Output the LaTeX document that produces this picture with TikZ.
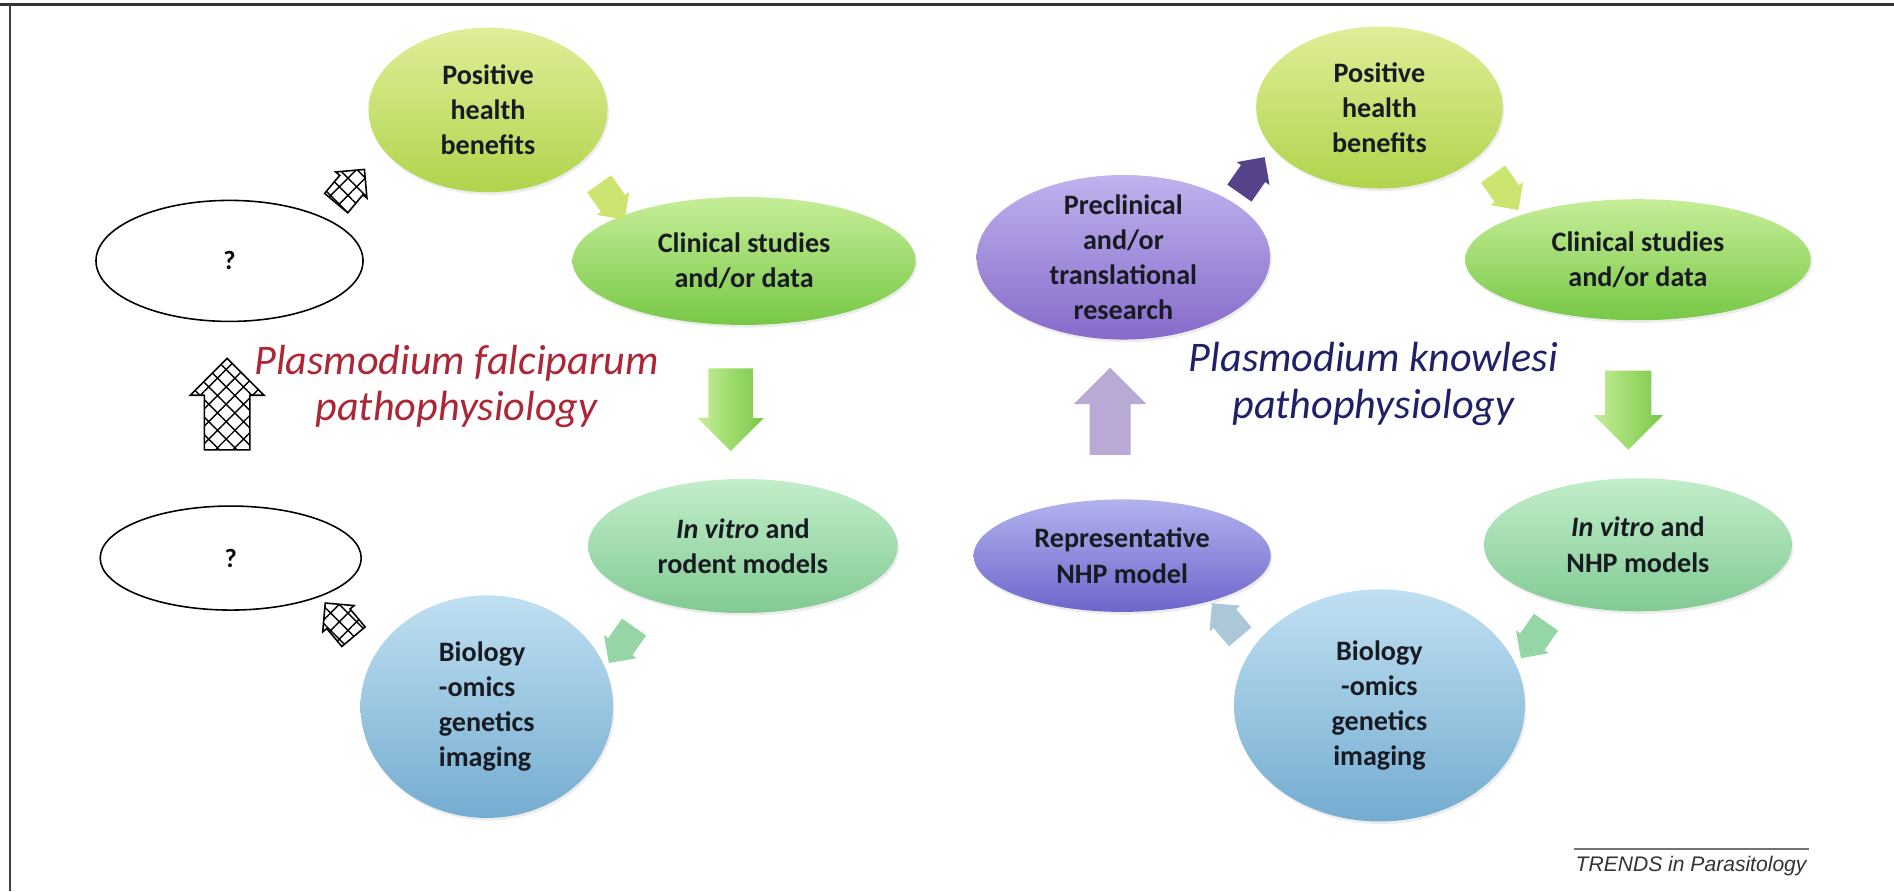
\documentclass[tikz,border=0pt]{standalone}
\usepackage{fontspec}
\setmainfont{Carlito}
\newfontfamily\trendsfont{Liberation Sans}
\usepackage{tikz}
\usetikzlibrary{shapes.geometric, shapes.arrows, patterns.meta, shadows}
\definecolor{TxtDark}{RGB}{24,28,34}
\definecolor{PosTop}{RGB}{224,238,152}
\definecolor{PosBot}{RGB}{176,212,76}
\definecolor{ClinTop}{RGB}{198,238,152}
\definecolor{ClinBot}{RGB}{120,200,70}
\definecolor{VitTop}{RGB}{194,238,202}
\definecolor{VitBot}{RGB}{130,202,148}
\definecolor{BioTop}{RGB}{192,224,242}
\definecolor{BioBot}{RGB}{116,172,208}
\definecolor{PreTop}{RGB}{192,178,238}
\definecolor{PreBot}{RGB}{134,106,202}
\definecolor{RepTop}{RGB}{178,178,238}
\definecolor{RepBot}{RGB}{110,102,204}
\definecolor{FalcRed}{RGB}{172,38,54}
\definecolor{KnowBlue}{RGB}{32,32,104}

\begin{document}
\begin{tikzpicture}[x=0.02416cm, y=-0.02416cm,
            blob/.style={ellipse, inner sep=0pt, align=center, text=TxtDark,
                         font=\bfseries\fontsize{16}{20}\selectfont,
                         drop shadow={opacity=0.15, shadow xshift=0.8pt, shadow yshift=-1.5pt}},
            qbox/.style={ellipse, draw=black, line width=0.9pt, fill=white,
                         minimum width=5.34cm, minimum height=2.42cm,
                         font=\bfseries\fontsize{15}{18}\selectfont},
            turn/.style={single arrow, inner xsep=0pt, inner ysep=8.2pt,
                         minimum height=25pt, single arrow head extend=3pt},
            big/.style={single arrow, inner xsep=0pt},
            hatch/.style={draw=black, line width=0.9pt,
                          pattern={Hatch[angle=45, distance=7pt, line width=0.8pt]}}
          ]
          \useasboundingbox (0,0) rectangle (1568,738);
          \draw[black!80, line width=1.6pt] (0,4) -- (1568,4);
          \draw[black!75, line width=1pt] (8,4) -- (8,738);

          % P. falciparum cycle
          \node[qbox] (q1) at (190,216) {?};
          \node[qbox, minimum width=5.22cm, minimum height=2.08cm] (q2) at (191,462) {?};
          \node[blob, top color=PosTop, bottom color=PosBot, minimum width=4.78cm,
                minimum height=3.29cm] (pos1) at (404,91) {Positive\\health\\benefits};
          \node[blob, top color=ClinTop, bottom color=ClinBot, minimum width=6.86cm,
                minimum height=2.56cm] (clin1) at (616,216) {Clinical studies\\and/or data};
          \node[blob, top color=VitTop, bottom color=VitBot, minimum width=6.19cm,
                minimum height=2.68cm] (vit1) at (615,452) {\textit{In vitro} and\\rodent models};
          \node[blob, top color=BioTop, bottom color=BioBot, minimum width=5.05cm,
                minimum height=4.45cm, align=left] (bio1) at (403,585)
                {Biology\\-omics\\genetics\\imaging};
          \node[turn, hatch, rotate=50] (a1) at (286,159) {};
          \node[turn, fill={rgb,255:red,204;green,228;blue,112}, rotate=-55] (a2) at (503,162) {};
          \node[turn, fill={rgb,255:red,150;green,214;blue,166}, rotate=-125] (a3) at (518,529) {};
          \node[turn, hatch, rotate=130] (a4) at (285,518) {};
          \node[big, hatch, rotate=90, minimum height=52pt, inner ysep=12.5pt,
                single arrow head extend=8pt] (up1) at (188,344) {};
          \node[big, rotate=-90, minimum height=47pt, inner ysep=12.5pt,
                single arrow head extend=6pt, left color=ClinTop, right color=ClinBot]
                (dn1) at (605,330) {};
          \node[font=\itshape\fontsize{24}{26.5}\selectfont, text=FalcRed, align=center]
                (falc) at (378,320) {Plasmodium falciparum\\pathophysiology};

          % P. knowlesi cycle
          \node[blob, top color=PreTop, bottom color=PreBot, minimum width=5.87cm,
                minimum height=3.29cm, inner ysep=-5pt] (pre) at (930,213)
                {Preclinical\\and/or\\translational\\research};
          \node[blob, top color=PosTop, bottom color=PosBot, minimum width=4.93cm,
                minimum height=3.24cm] (pos2) at (1142,89) {Positive\\health\\benefits};
          \node[blob, top color=ClinTop, bottom color=ClinBot, minimum width=6.91cm,
                minimum height=2.42cm] (clin2) at (1356,215) {Clinical studies\\and/or data};
          \node[blob, top color=VitTop, bottom color=VitBot, minimum width=6.16cm,
                minimum height=2.66cm] (vit2) at (1356,451) {\textit{In vitro} and\\NHP models};
          \node[blob, top color=BioTop, bottom color=BioBot, minimum width=5.82cm,
                minimum height=4.64cm] (bio2) at (1142,584)
                {Biology\\-omics\\genetics\\imaging};
          \node[blob, top color=RepTop, bottom color=RepBot, minimum width=5.94cm,
                minimum height=2.25cm] (rep) at (929,460) {Representative\\NHP model};
          \node[turn, fill={rgb,255:red,86;green,66;blue,136}, rotate=55] (b1) at (1033,150) {};
          \node[turn, fill={rgb,255:red,204;green,228;blue,112}, rotate=-55] (b2) at (1243,154) {};
          \node[turn, fill={rgb,255:red,150;green,214;blue,166}, rotate=-125] (b3) at (1273,525) {};
          \node[turn, fill={rgb,255:red,172;green,200;blue,216}, rotate=130] (b4) at (1019,518) {};
          \node[big, rotate=90, minimum height=49.5pt, inner ysep=11.5pt,
                single arrow head extend=9pt,
                fill={rgb,255:red,184;green,170;blue,212}] (up2) at (919,349) {};
          \node[big, rotate=-90, minimum height=45pt, inner ysep=13pt,
                single arrow head extend=6.5pt, left color=ClinTop, right color=ClinBot]
                (dn2) at (1348,330) {};
          \node[font=\itshape\fontsize{24}{26.5}\selectfont, text=KnowBlue, align=center]
                (know) at (1137,318) {Plasmodium knowlesi\\pathophysiology};

          \node[font=\trendsfont\itshape\fontsize{12}{14}\selectfont, text=black!80,
                inner xsep=1pt, inner ysep=4pt] (trends) at (1400,717) {TRENDS in Parasitology};
          \draw[black!55, line width=1pt] (trends.north west) -- (trends.north east);
        \end{tikzpicture}
\end{document}
